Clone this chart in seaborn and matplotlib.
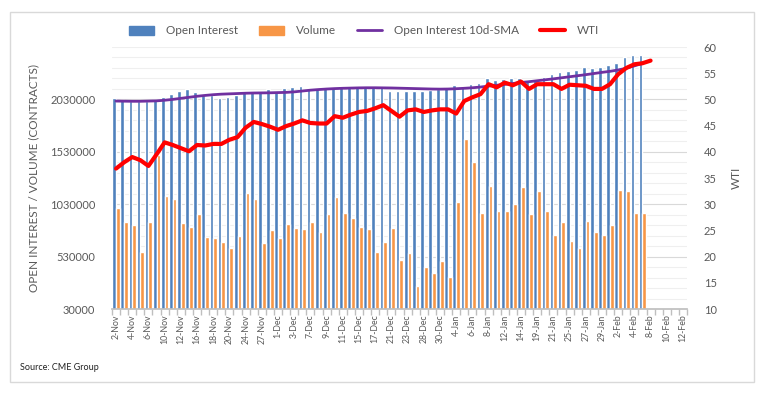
import numpy as np
import pandas as pd
import matplotlib
matplotlib.use("Agg")
import matplotlib.pyplot as plt
import seaborn as sns
from matplotlib.patches import Patch, Rectangle
from matplotlib.lines import Line2D
from matplotlib.ticker import MultipleLocator, FixedLocator

# trading days shown on the category axis
dates = ["2-Nov", "3-Nov", "4-Nov", "5-Nov", "6-Nov", "9-Nov", "10-Nov", "11-Nov", "12-Nov", "13-Nov",
         "16-Nov", "17-Nov", "18-Nov", "19-Nov", "20-Nov", "23-Nov", "24-Nov", "25-Nov", "27-Nov", "30-Nov",
         "1-Dec", "2-Dec", "3-Dec", "4-Dec", "7-Dec", "8-Dec", "9-Dec", "10-Dec", "11-Dec", "14-Dec",
         "15-Dec", "16-Dec", "17-Dec", "18-Dec", "21-Dec", "22-Dec", "23-Dec", "24-Dec", "28-Dec", "29-Dec",
         "30-Dec", "31-Dec", "4-Jan", "5-Jan", "6-Jan", "7-Jan", "8-Jan", "11-Jan", "12-Jan", "13-Jan",
         "14-Jan", "15-Jan", "19-Jan", "20-Jan", "21-Jan", "22-Jan", "25-Jan", "26-Jan", "27-Jan", "28-Jan",
         "29-Jan", "1-Feb", "2-Feb", "3-Feb", "4-Feb", "5-Feb", "8-Feb", "9-Feb", "10-Feb", "11-Feb", "12-Feb"]

open_interest = [2040000, 2023000, 2017000, 2017000, 2017000, 2023000, 2049000, 2083000, 2112000, 2125000,
                 2102000, 2071000, 2075000, 2040000, 2055000, 2071000, 2097000, 2102000, 2112000, 2125000,
                 2112000, 2135000, 2150000, 2160000, 2125000, 2130000, 2135000, 2144000, 2153000, 2150000,
                 2150000, 2147000, 2144000, 2144000, 2112000, 2110000, 2110000, 2110000, 2110000, 2118000,
                 2125000, 2144000, 2166000, 2160000, 2173000, 2188000, 2230000, 2217000, 2228000, 2236000,
                 2234000, 2211000, 2211000, 2243000, 2274000, 2287000, 2303000, 2312000, 2338000, 2328000,
                 2338000, 2360000, 2379000, 2433000, 2455000, 2449000]

volume = [996000, 863000, 834000, 576000, 863000, 1499000, 1111000, 1076000, 853000, 815000,
          933000, 720000, 710000, 672000, 612000, 729000, 1133000, 1076000, 662000, 781000,
          710000, 843000, 805000, 796000, 863000, 762000, 933000, 1095000, 943000, 901000,
          815000, 796000, 576000, 672000, 805000, 500000, 567000, 252000, 428000, 376000,
          491000, 338000, 1053000, 1648000, 1435000, 943000, 1206000, 967000, 967000, 1028000,
          1196000, 933000, 1158000, 967000, 739000, 863000, 681000, 615000, 872000, 767000,
          739000, 834000, 1168000, 1158000, 948000, 943000]

oi_sma = [2014000, 2013000, 2012000, 2012000, 2014000, 2016000, 2022000, 2030000, 2040000, 2050000,
          2060000, 2068000, 2075000, 2080000, 2083000, 2086000, 2089000, 2091000, 2092000, 2093000,
          2095000, 2097000, 2102000, 2110000, 2118000, 2124000, 2129000, 2133000, 2136000, 2138000,
          2140000, 2141000, 2141000, 2140000, 2139000, 2137000, 2135000, 2133000, 2131000, 2129000,
          2128000, 2129000, 2132000, 2136000, 2141000, 2148000, 2157000, 2165000, 2173000, 2182000,
          2191000, 2199000, 2208000, 2217000, 2226000, 2236000, 2246000, 2256000, 2266000, 2277000,
          2288000, 2298000, 2311000, 2327000, 2350000, 2373000]

wti = [36.8, 38.0, 39.0, 38.4, 37.3, 39.5, 41.8, 41.3, 40.7, 40.1,
       41.3, 41.2, 41.5, 41.5, 42.3, 42.8, 44.6, 45.7, 45.3, 44.8,
       44.2, 44.9, 45.4, 46.0, 45.5, 45.4, 45.4, 46.8, 46.5, 47.1,
       47.6, 47.8, 48.3, 48.9, 47.8, 46.7, 47.9, 48.1, 47.6, 47.9,
       48.1, 48.1, 47.3, 49.7, 50.4, 51.0, 52.9, 52.3, 53.2, 52.7,
       53.4, 52.0, 52.9, 52.9, 52.9, 52.0, 52.8, 52.7, 52.6, 52.0,
       52.0, 52.9, 54.8, 56.0, 56.7, 56.9, 57.4]

left_ticks = [30000, 530000, 1030000, 1530000, 2030000, 2530000]

BLUE = "#4F81BD"
ORANGE = "#F79646"
PURPLE = "#7030A0"
RED = "#FF0000"
GREY = "#595959"

sns.set_theme(style="white")
plt.rcParams["font.family"] = ["Lato", "DejaVu Sans"]

n = len(dates)
pad = [np.nan] * (n - len(open_interest))
bars = pd.DataFrame({
    "date": dates * 2,
    "series": ["Open Interest"] * n + ["Volume"] * n,
    "value": open_interest + pad + volume + pad,
})

fig = plt.figure(figsize=(7.69, 3.97), dpi=100)
ax = fig.add_axes([112 / 769, 1 - 309 / 397, 575 / 769, 262 / 397])

sns.barplot(data=bars, x="date", y="value", hue="series", order=dates,
            hue_order=["Open Interest", "Volume"], palette=[BLUE, ORANGE],
            width=0.92, saturation=1, errorbar=None, legend=False, ax=ax, zorder=2)

pos = np.arange(n)
sns.lineplot(x=pos[:len(oi_sma)], y=oi_sma, color=PURPLE, linewidth=2.0, ax=ax, zorder=3)

ax.set_xlim(-0.5, n - 0.5)
ax.set_ylim(left_ticks[0], left_ticks[-1])
ax.yaxis.set_major_locator(FixedLocator(left_ticks[:-1]))
ax.yaxis.set_minor_locator(FixedLocator(np.arange(left_ticks[0], left_ticks[-1] + 1, 100000)))
ax.grid(axis="y", which="major", color="#d9d9d9", linewidth=0.8, zorder=0)
ax.grid(axis="y", which="minor", color="#efefef", linewidth=0.8, zorder=0)
ax.set_axisbelow(True)
ax.set_xticks(pos[::2])
ax.set_xticklabels(dates[::2], rotation=90, fontsize=6.3, color=GREY)
ax.xaxis.set_minor_locator(FixedLocator(np.arange(n + 1) - 0.5))
ax.tick_params(axis="x", which="major", length=0, pad=4)
ax.tick_params(axis="x", which="minor", length=4, color="#bfbfbf", bottom=True)
ax.tick_params(axis="y", which="both", length=0, pad=12, labelsize=8, labelcolor=GREY)
ax.yaxis.set_major_formatter(matplotlib.ticker.FuncFormatter(lambda v, p: f"{int(round(v))}"))
for s in ["top", "left", "right"]:
    ax.spines[s].set_visible(False)
ax.spines["bottom"].set_color("#bfbfbf")
ax.set_xlabel("")
ax.set_ylabel("OPEN INTEREST / VOLUME (CONTRACTS)", fontsize=8.5, color=GREY, labelpad=8)

ax2 = ax.twinx()
sns.lineplot(x=pos[:len(wti)], y=wti, color=RED, linewidth=3.0, ax=ax2, zorder=4)
ax2.set_ylim(10, 60)
ax2.yaxis.set_major_locator(MultipleLocator(5))
ax2.tick_params(axis="y", length=0, pad=12, labelsize=8, labelcolor=GREY)
for s in ax2.spines.values():
    s.set_visible(False)
ax2.set_ylabel("WTI", fontsize=8.5, color=GREY, rotation=90, labelpad=10)
ax2.grid(False)

handles = [Patch(color=BLUE), Patch(color=ORANGE),
           Line2D([], [], color=PURPLE, linewidth=2.0),
           Line2D([], [], color=RED, linewidth=3.0)]
fig.legend(handles, ["Open Interest", "Volume", "Open Interest 10d-SMA", "WTI"],
           loc="center", bbox_to_anchor=(364 / 769, 1 - 31 / 397), ncol=4, frameon=False,
           fontsize=8.5, labelcolor=GREY, handlelength=2.1, handleheight=0.9,
           columnspacing=1.8, handletextpad=1.0)

fig.text(20 / 769, 1 - 367 / 397, "Source: CME Group", fontsize=6.5, color="#222222", va="center")
fig.patches.append(Rectangle((10 / 769, 1 - 382 / 397), 744 / 769, 370 / 397, transform=fig.transFigure,
                             fill=False, edgecolor="#d9d9d9", linewidth=1.0))

fig.savefig("out.png", dpi=100)
